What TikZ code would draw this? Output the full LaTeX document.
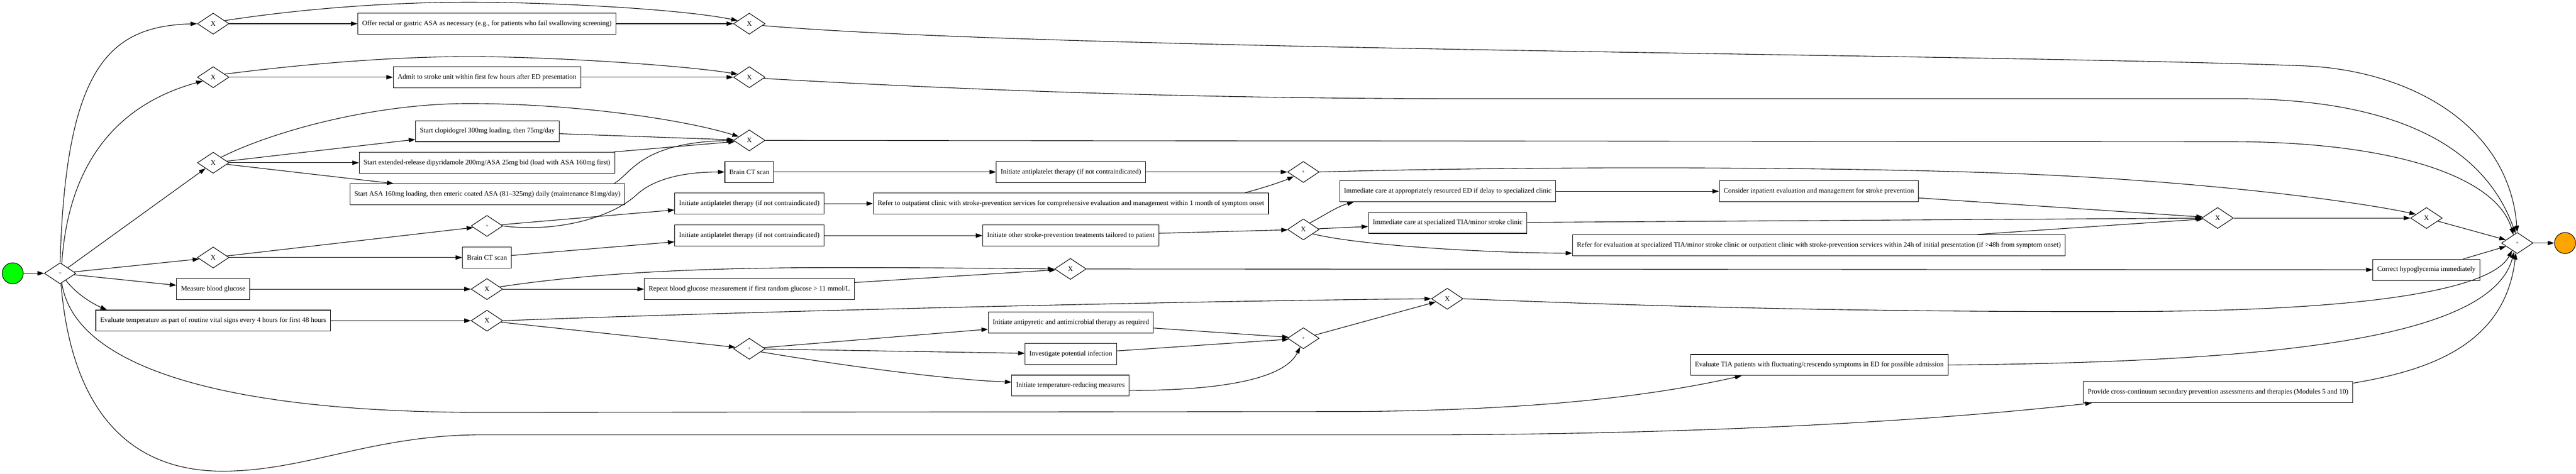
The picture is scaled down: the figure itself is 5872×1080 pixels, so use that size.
\documentclass[tikz,border=0pt]{standalone}
\usepackage{fontspec}
\setmainfont{Liberation Serif}
\usetikzlibrary{shapes.geometric,arrows.meta}
\definecolor{startgreen}{RGB}{0,255,0}
\definecolor{endorange}{RGB}{255,165,0}
\begin{document}
\begin{tikzpicture}[x=1bp,y=-1bp,
  every node/.style={font=\fontsize{15.8bp}{18bp}\selectfont},
  task/.style={draw=black, line width=1.3bp, rectangle, minimum height=48bp, inner xsep=10bp, inner ysep=0pt, fill=white},
  gw/.style={draw=black, line width=1.3bp, diamond, minimum width=72bp, minimum height=48bp, inner sep=0pt, fill=white},
  pgw/.style={gw, font=\fontsize{11bp}{12bp}\selectfont},
  startev/.style={circle, draw=black, line width=1.3bp, fill=startgreen, minimum size=48bp, inner sep=0pt},
  endev/.style={circle, draw=black, line width=1.3bp, fill=endorange, minimum size=48bp, inner sep=0pt},
  flow/.style={draw=black, line width=1.3bp, -{Triangle[length=15bp,width=10bp]}},
]
\useasboundingbox (0,0) rectangle (5872,1080);
% nodes
\node[startev] (start) at (29,623) {};
\node[pgw] (psplit) at (137,623) {+};
\node[gw] (x1) at (486,54) {X};
\node[gw] (x2) at (486,176) {X};
\node[gw] (x3) at (486,371) {X};
\node[gw] (x4) at (486,587) {X};
\node[task] (measure) at (486,659) {Measure blood glucose};
\node[task] (evaltemp) at (486,731) {Evaluate temperature as part of routine vital signs every 4 hours for first 48 hours};
\node[task] (offer) at (1110,54) {Offer rectal or gastric ASA as necessary (e.g., for patients who fail swallowing screening)};
\node[task] (admit) at (1110,176) {Admit to stroke unit within first few hours after ED presentation};
\node[task] (clop) at (1111,299) {Start clopidogrel 300mg loading, then 75mg/day};
\node[task] (dipy) at (1110,371) {Start extended-release dipyridamole 200mg/ASA 25mg bid (load with ASA 160mg first)};
\node[task] (asa) at (1111,443) {Start ASA 160mg loading, then enteric coated ASA (81--325mg) daily (maintenance 81mg/day)};
\node[pgw] (p2) at (1110,515) {+};
\node[task] (ct2) at (1110,587) {Brain CT scan};
\node[gw] (xg) at (1110,659) {X};
\node[gw] (xt) at (1110,731) {X};
\node[gw] (m1) at (1708,54) {X};
\node[gw] (m2) at (1708,176) {X};
\node[gw] (m3) at (1708,320) {X};
\node[task] (ct1) at (1708,392) {Brain CT scan};
\node[task] (ap1) at (1708,464) {Initiate antiplatelet therapy (if not contraindicated)};
\node[task] (ap2) at (1708,537) {Initiate antiplatelet therapy (if not contraindicated)};
\node[task] (repeat) at (1708,659) {Repeat blood glucose measurement if first random glucose > 11 mmol/L};
\node[pgw] (pt) at (1708,795) {+};
\node[task] (apct) at (2441,392) {Initiate antiplatelet therapy (if not contraindicated)};
\node[task] (refer1) at (2441,464) {Refer to outpatient clinic with stroke-prevention services for comprehensive evaluation and management within 1 month of symptom onset};
\node[task] (other) at (2441,537) {Initiate other stroke-prevention treatments tailored to patient};
\node[gw] (xgm) at (2440,613) {X};
\node[task] (antipy) at (2441,735) {Initiate antipyretic and antimicrobial therapy as required};
\node[task] (invest) at (2441,807) {Investigate potential infection};
\node[task] (tempred) at (2440,879) {Initiate temperature-reducing measures};
\node[pgw] (pm) at (2971,392) {+};
\node[gw] (xo) at (2971,523) {X};
\node[pgw] (ptm) at (2971,771) {+};
\node[task] (ied) at (3300,436) {Immediate care at appropriately resourced ED if delay to specialized clinic};
\node[task] (itia) at (3300,508) {Immediate care at specialized TIA/minor stroke clinic};
\node[gw] (xtm) at (3299,681) {X};
\node[task] (consider) at (4146,436) {Consider inpatient evaluation and management for stroke prevention};
\node[task] (refer2) at (4146,559) {Refer for evaluation at specialized TIA/minor stroke clinic or outpatient clinic with stroke-prevention services within 24h of initial presentation (if >48h from symptom onset)};
\node[task] (evaltia) at (4147,832) {Evaluate TIA patients with fluctuating/crescendo symptoms in ED for possible admission};
\node[gw] (xm) at (5055,497) {X};
\node[task] (provide) at (5056,894) {Provide cross-continuum secondary prevention assessments and therapies (Modules 5 and 10)};
\node[gw] (xf) at (5531,497) {X};
\node[task] (hypo) at (5531,615) {Correct hypoglycemia immediately};
\node[pgw] (pf) at (5738,554) {+};
\node[endev] (endn) at (5847,554) {};
% edges from start
\draw[flow] (start) -- (psplit);
\draw[flow] (psplit.north) .. controls (150,150) and (250,60) .. (x1.west);
\draw[flow] (psplit.80) .. controls (155,380) and (260,240) .. (x2.200);
\draw[flow] (psplit) -- (x3);
\draw[flow] (psplit) -- (x4);
\draw[flow] (psplit) -- (measure);
\draw[flow] (psplit.-50) .. controls (175,672) and (215,694) .. ([xshift=26bp]evaltemp.north west);
\draw[flow] (psplit.-80) .. controls (170,840) and (520,940) .. (1100,940) -- (3100,938) .. controls (3550,934) and (3800,895) .. ([xshift=117bp]evaltia.south west);
\draw[flow] (psplit.-85) .. controls (162,930) and (290,1075) .. (510,1074) .. controls (700,1073) and (850,991) .. (1100,991) -- (3300,991) .. controls (3900,988) and (4400,960) .. ([xshift=20bp]provide.south west);
% top branches
\draw[flow] (x1) -- (offer);
\draw[flow] (x1.15) .. controls (700,18) and (900,5) .. (1069,5) .. controls (1250,5) and (1550,20) .. (m1.165);
\draw[flow] (offer) -- (m1);
\draw[flow] (x2) -- (admit);
\draw[flow] (x2.15) .. controls (700,145) and (900,129) .. (1069,129) .. controls (1250,129) and (1550,148) .. (m2.165);
\draw[flow] (admit) -- (m2);
\draw[flow] (x3) -- (clop);
\draw[flow] (x3) -- (dipy);
\draw[flow] (x3) -- (asa);
\draw[flow] (x3.35) .. controls (620,300) and (850,236) .. (1069,236) .. controls (1300,236) and (1550,270) .. (m3.160);
\draw[flow] (clop) -- (m3);
\draw[flow] (dipy) -- (m3);
\draw[flow] ([xshift=-25bp]asa.north east) .. controls (1440,395) and (1460,325) .. (m3.west);
% CT / antiplatelet branch
\draw[flow] (x4) -- (p2);
\draw[flow] (x4) -- (ct2);
\draw[flow] (p2) -- (ap1);
\draw[flow] (p2.east) .. controls (1260,530) and (1390,500) .. (1451,444) .. controls (1491,407) and (1560,392) .. (ct1.west);
\draw[flow] (ct2) -- (ap2);
\draw[flow] (ct1) -- (apct);
\draw[flow] (ap1) -- (refer1);
\draw[flow] (ap2) -- (other);
\draw[flow] (apct) -- (pm);
\draw[flow] ([xshift=-54bp]refer1.north east) .. controls (2880,428) and (2920,415) .. (pm.205);
\draw[flow] (other) -- (xo);
\draw[flow] (xo.45) .. controls (3020,490) and (3050,470) .. ([xshift=33bp]ied.south west);
\draw[flow] (xo) -- (itia);
\draw[flow] (xo.-25) .. controls (3100,560) and (3400,577) .. ([yshift=-18bp]refer2.west);
\draw[flow] (pm.east) .. controls (3500,378) and (4200,380) .. (4600,396) .. controls (5000,412) and (5350,455) .. (xf.160);
\draw[flow] (ied) -- (consider);
\draw[flow] (itia) -- (xm);
\draw[flow] (consider) -- (xm);
\draw[flow] (refer2) -- (xm);
\draw[flow] (xm) -- (xf);
\draw[flow] (xf) -- (pf);
% glucose branch
\draw[flow] (measure) -- (xg);
\draw[flow] (xg) -- (repeat);
\draw[flow] (xg.10) .. controls (1350,622) and (1600,610) .. (1900,610) .. controls (2150,610) and (2300,612) .. (xgm.west);
\draw[flow] (repeat) -- (xgm);
\draw[flow] (xgm) -- (hypo);
\draw[flow] (hypo) -- (pf);
% temperature branch
\draw[flow] (evaltemp) -- (xt);
\draw[flow] (xt.east) .. controls (1700,710) and (2700,686) .. (xtm.west);
\draw[flow] (xt) -- (pt);
\draw[flow] (pt) -- (antipy);
\draw[flow] (pt) -- (invest);
\draw[flow] (pt.-15) .. controls (1900,830) and (2150,865) .. ([yshift=8bp]tempred.west);
\draw[flow] (antipy) -- (ptm);
\draw[flow] (invest) -- (ptm);
\draw[flow] ([yshift=-11bp]tempred.east) .. controls (2800,890) and (2930,860) .. (ptm.250);
\draw[flow] (ptm) -- (xtm);
% into final join
\draw[flow] (m1.-8) .. controls (2400,115) and (4500,122) .. (5250,150) .. controls (5500,160) and (5720,290) .. (pf.north);
\draw[flow] (m2.-5) .. controls (2200,205) and (2700,224) .. (3300,225) -- (5100,225) .. controls (5400,226) and (5650,300) .. (pf.100);
\draw[flow] (m3.east) -- (5100,323) .. controls (5450,325) and (5690,400) .. (pf.115);
\draw[flow] (xtm.east) .. controls (3800,700) and (4300,712) .. (4869,710) .. controls (5400,708) and (5680,660) .. (pf.235);
\draw[flow] (evaltia.east) .. controls (5200,825) and (5680,770) .. (pf.250);
\draw[flow] ([yshift=-4bp]provide.north east) .. controls (5530,845) and (5710,790) .. (pf.262);
\draw[flow] (pf) -- (endn);
\end{tikzpicture}
\end{document}
